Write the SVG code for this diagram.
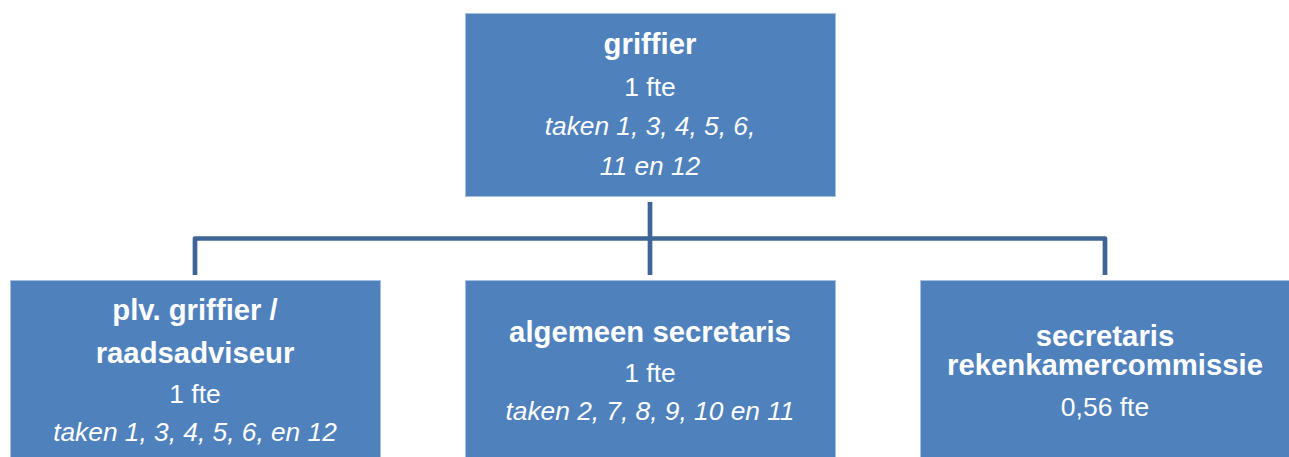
<svg xmlns="http://www.w3.org/2000/svg" width="1289" height="457" viewBox="0 0 1289 457">
<style>
.box{fill:#4F81BD;stroke:#A9C0DD;stroke-width:1}
.conn{fill:none;stroke:#3F6596;stroke-width:4.7;stroke-linejoin:round}
text{font-family:"Liberation Sans",Arial,sans-serif;fill:#FFFFFF;text-anchor:middle}
.b{font-weight:bold;font-size:29.3px}
.r{font-size:26.5px}
.i{font-size:26.3px;font-style:italic}
</style>
<rect width="1289" height="457" fill="#FFFFFF"/>
<g id="connectors">
<path class="conn" d="M650,202 V275"/>
<path class="conn" d="M195,275 V238.5 H1105 V275"/>
</g>
<g id="griffier">
<rect class="box" x="465.5" y="13.5" width="370" height="183"/>
<text class="b" x="650" y="54">griffier</text>
<text class="r" x="650" y="96">1 fte</text>
<text class="i" x="650" y="135">taken 1, 3, 4, 5, 6,</text>
<text class="i" x="650" y="175">11 en 12</text>
</g>
<g id="plv-griffier">
<rect class="box" x="10.5" y="280.5" width="370" height="200"/>
<text class="b" x="195" y="320">plv. griffier /</text>
<text class="b" x="195" y="363">raadsadviseur</text>
<text class="r" x="195" y="403">1 fte</text>
<text class="i" x="195" y="441">taken 1, 3, 4, 5, 6, en 12</text>
</g>
<g id="algemeen-secretaris">
<rect class="box" x="465.5" y="280.5" width="370" height="200"/>
<text class="b" x="650" y="342">algemeen secretaris</text>
<text class="r" x="650" y="382">1 fte</text>
<text class="i" x="650" y="420">taken 2, 7, 8, 9, 10 en 11</text>
</g>
<g id="secretaris-rekenkamercommissie">
<rect class="box" x="920.5" y="280.5" width="400" height="200"/>
<text class="b" x="1105" y="346">secretaris</text>
<text class="b" x="1105" y="375">rekenkamercommissie</text>
<text class="r" x="1105" y="416">0,56 fte</text>
</g>
</svg>
